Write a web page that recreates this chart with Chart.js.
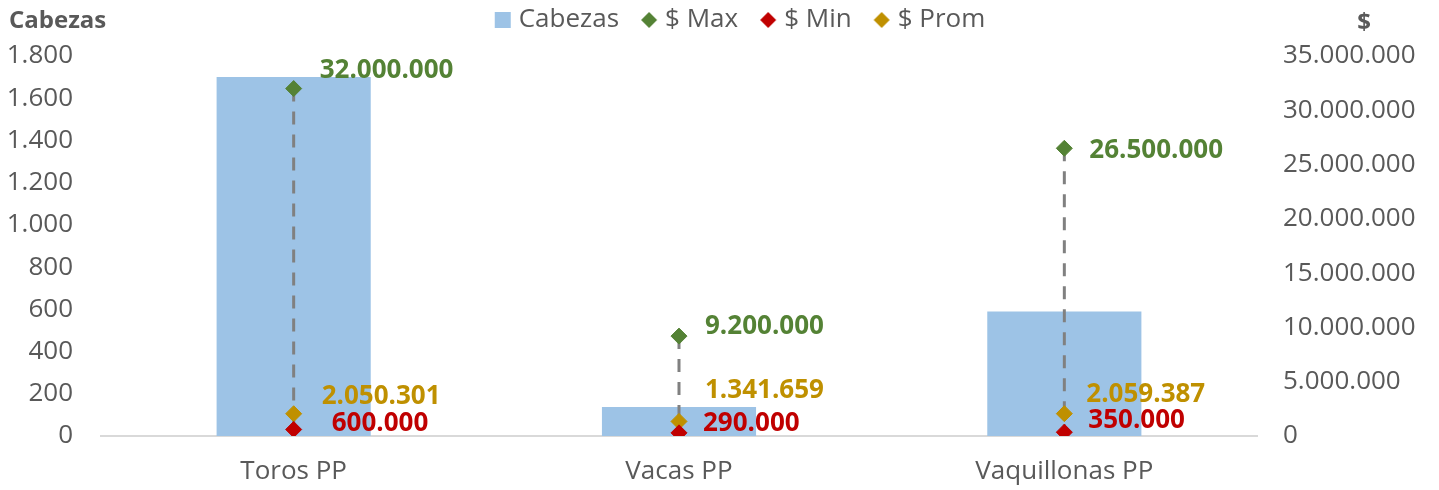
<!DOCTYPE html>
<html><head><meta charset="utf-8">
<script src="https://cdn.jsdelivr.net/npm/chart.js@4/dist/chart.umd.min.js"></script>
<style>html,body{margin:0;padding:0;background:#fff}#wrap{width:1439px;height:490px}</style>
</head><body><div id="wrap"><canvas id="c" width="1439" height="490"></canvas></div>
<script>
const categories = ["Toros PP", "Vacas PP", "Vaquillonas PP"];
const cabezas = [1700, 137, 590];
const precioMax = [32000000, 9200000, 26500000];
const precioMin = [600000, 290000, 350000];
const precioProm = [2050301, 1341659, 2059387];
const leftTicksMax = 1800, leftStep = 200;
const rightTicksMax = 35000000, rightStep = 5000000;

function fmt(v){ return String(Math.round(v)).replace(/\B(?=(\d{3})+(?!\d))/g, "."); }
const FONT = "'Open Sans', 'DejaVu Sans', sans-serif";
const GREY = "#595959";

// label offsets [dx, dy] per dataset index / category (style only)
const labelOffsets = {
  1: [[26,-18],[26,-10],[25,2]],
  2: [[38,-6],[24,-9],[24,-12]],
  3: [[28,-17],[26,-31],[22,-19]]
};

function marker(color, diamond){
  const c = document.createElement('canvas'); c.width = 18; c.height = 18;
  const x = c.getContext('2d'); x.fillStyle = color;
  if (diamond){ x.beginPath(); x.moveTo(9,1); x.lineTo(17,9); x.lineTo(9,17); x.lineTo(1,9); x.closePath(); x.fill(); }
  else { x.fillRect(1,1,16,16); }
  return c;
}

const rangePlugin = {
  id: 'rangeLines',
  beforeLayout(chart){
    const lg = chart.legend;
    if (lg && !lg._patched){
      const f = lg.fit.bind(lg);
      lg.fit = function(){ f(); this.height -= 7; };
      const d = lg.draw.bind(lg);
      lg.draw = function(){ const c = this.ctx; c.save(); c.translate(30,0); d(); c.restore(); };
      lg._patched = true;
    }
  },
  afterLayout(chart){
    if (chart.legend) chart.legend.top -= 20;
  },
  afterDatasetDraw(chart, args){
    if (args.index !== 0) return;
    const ctx = chart.ctx;
    const mx = chart.getDatasetMeta(1).data, mn = chart.getDatasetMeta(2).data;
    ctx.save();
    ctx.strokeStyle = "#808080"; ctx.lineWidth = 3; ctx.setLineDash([13,10]);
    for (let i=0;i<mx.length;i++){
      ctx.beginPath(); ctx.moveTo(mx[i].x, mx[i].y); ctx.lineTo(mn[i].x, mn[i].y); ctx.stroke();
    }
    ctx.restore();
  },
  afterDatasetsDraw(chart){
    const ctx = chart.ctx;
    ctx.save();
    ctx.font = "bold 26px " + FONT;
    ctx.textAlign = "left"; ctx.textBaseline = "middle";
    [1,2,3].forEach(di=>{
      const ds = chart.data.datasets[di];
      const meta = chart.getDatasetMeta(di);
      ctx.fillStyle = ds.borderColor;
      meta.data.forEach((p,i)=>{
        const o = labelOffsets[di][i];
        ctx.fillText(fmt(ds.data[i]), p.x + o[0], p.y + o[1]);
      });
    });
    ctx.restore();
  },
  afterDraw(chart){
    const ctx = chart.ctx;
    ctx.save();
    ctx.font = "bold 24px " + FONT; ctx.fillStyle = GREY; ctx.textBaseline = "middle";
    ctx.textAlign = "left"; ctx.fillText("Cabezas", 9, 21);
    ctx.textAlign = "center"; ctx.fillText("$", 1364, 23);
    ctx.restore();
  }
};

const pt = (label,data,color)=>({
  type:'line', label, data, yAxisID:'y1', showLine:false,
  pointStyle:'rectRot', pointRadius:8, pointHoverRadius:8,
  backgroundColor:color, borderColor:color, pointBorderWidth:1, order:0
});

new Chart(document.getElementById('c'), {
  data: {
    labels: categories,
    datasets: [
      { type:'bar', label:'Cabezas', data:cabezas, backgroundColor:'#9dc3e6', borderColor:'#9dc3e6', yAxisID:'y',
        barPercentage:0.4, categoryPercentage:1, order:1 },
      pt('$ Max', precioMax, '#548235'),
      pt('$ Min', precioMin, '#c00000'),
      pt('$ Prom', precioProm, '#bf9000')
    ]
  },
  plugins:[rangePlugin],
  options: {
    responsive:false, animation:false, devicePixelRatio:1,
    layout:{ padding:{ left:8, right:22, top:0, bottom:3 } },
    plugins:{
      legend:{ position:'top', labels:{
        usePointStyle:true, pointStyleWidth:6, boxHeight:16, color:GREY,
        font:{ size:26, family:FONT }, padding:27,
        generateLabels(chart){
          return chart.data.datasets.map((ds,i)=>({
            text: ds.label, fillStyle: ds.backgroundColor, strokeStyle: ds.backgroundColor,
            lineWidth:0, pointStyle: marker(ds.backgroundColor, i>0), datasetIndex:i, hidden:false,
            fontColor: GREY
          }));
        } } },
      tooltip:{ enabled:false }
    },
    scales:{
      x:{ grid:{ display:false, drawTicks:false }, border:{ color:'#d9d9d9', width:2 },
          afterFit(s){ s.height = 51; },
          ticks:{ color:GREY, font:{ size:26, family:FONT }, padding:20 } },
      y:{ position:'left', min:0, max:leftTicksMax, grid:{ display:false, drawTicks:false }, border:{ display:false },
          afterFit(s){ s.width = 93; },
          ticks:{ stepSize:leftStep, color:GREY, font:{ size:26, family:FONT }, padding:28, callback:v=>fmt(v) } },
      y1:{ position:'right', min:0, max:rightTicksMax, grid:{ display:false, drawTicks:false }, border:{ display:false },
          afterFit(s){ s.width = 160; },
          ticks:{ stepSize:rightStep, color:GREY, font:{ size:26, family:FONT }, padding:26, callback:v=>fmt(v) } }
    }
  }
});
</script></body></html>
